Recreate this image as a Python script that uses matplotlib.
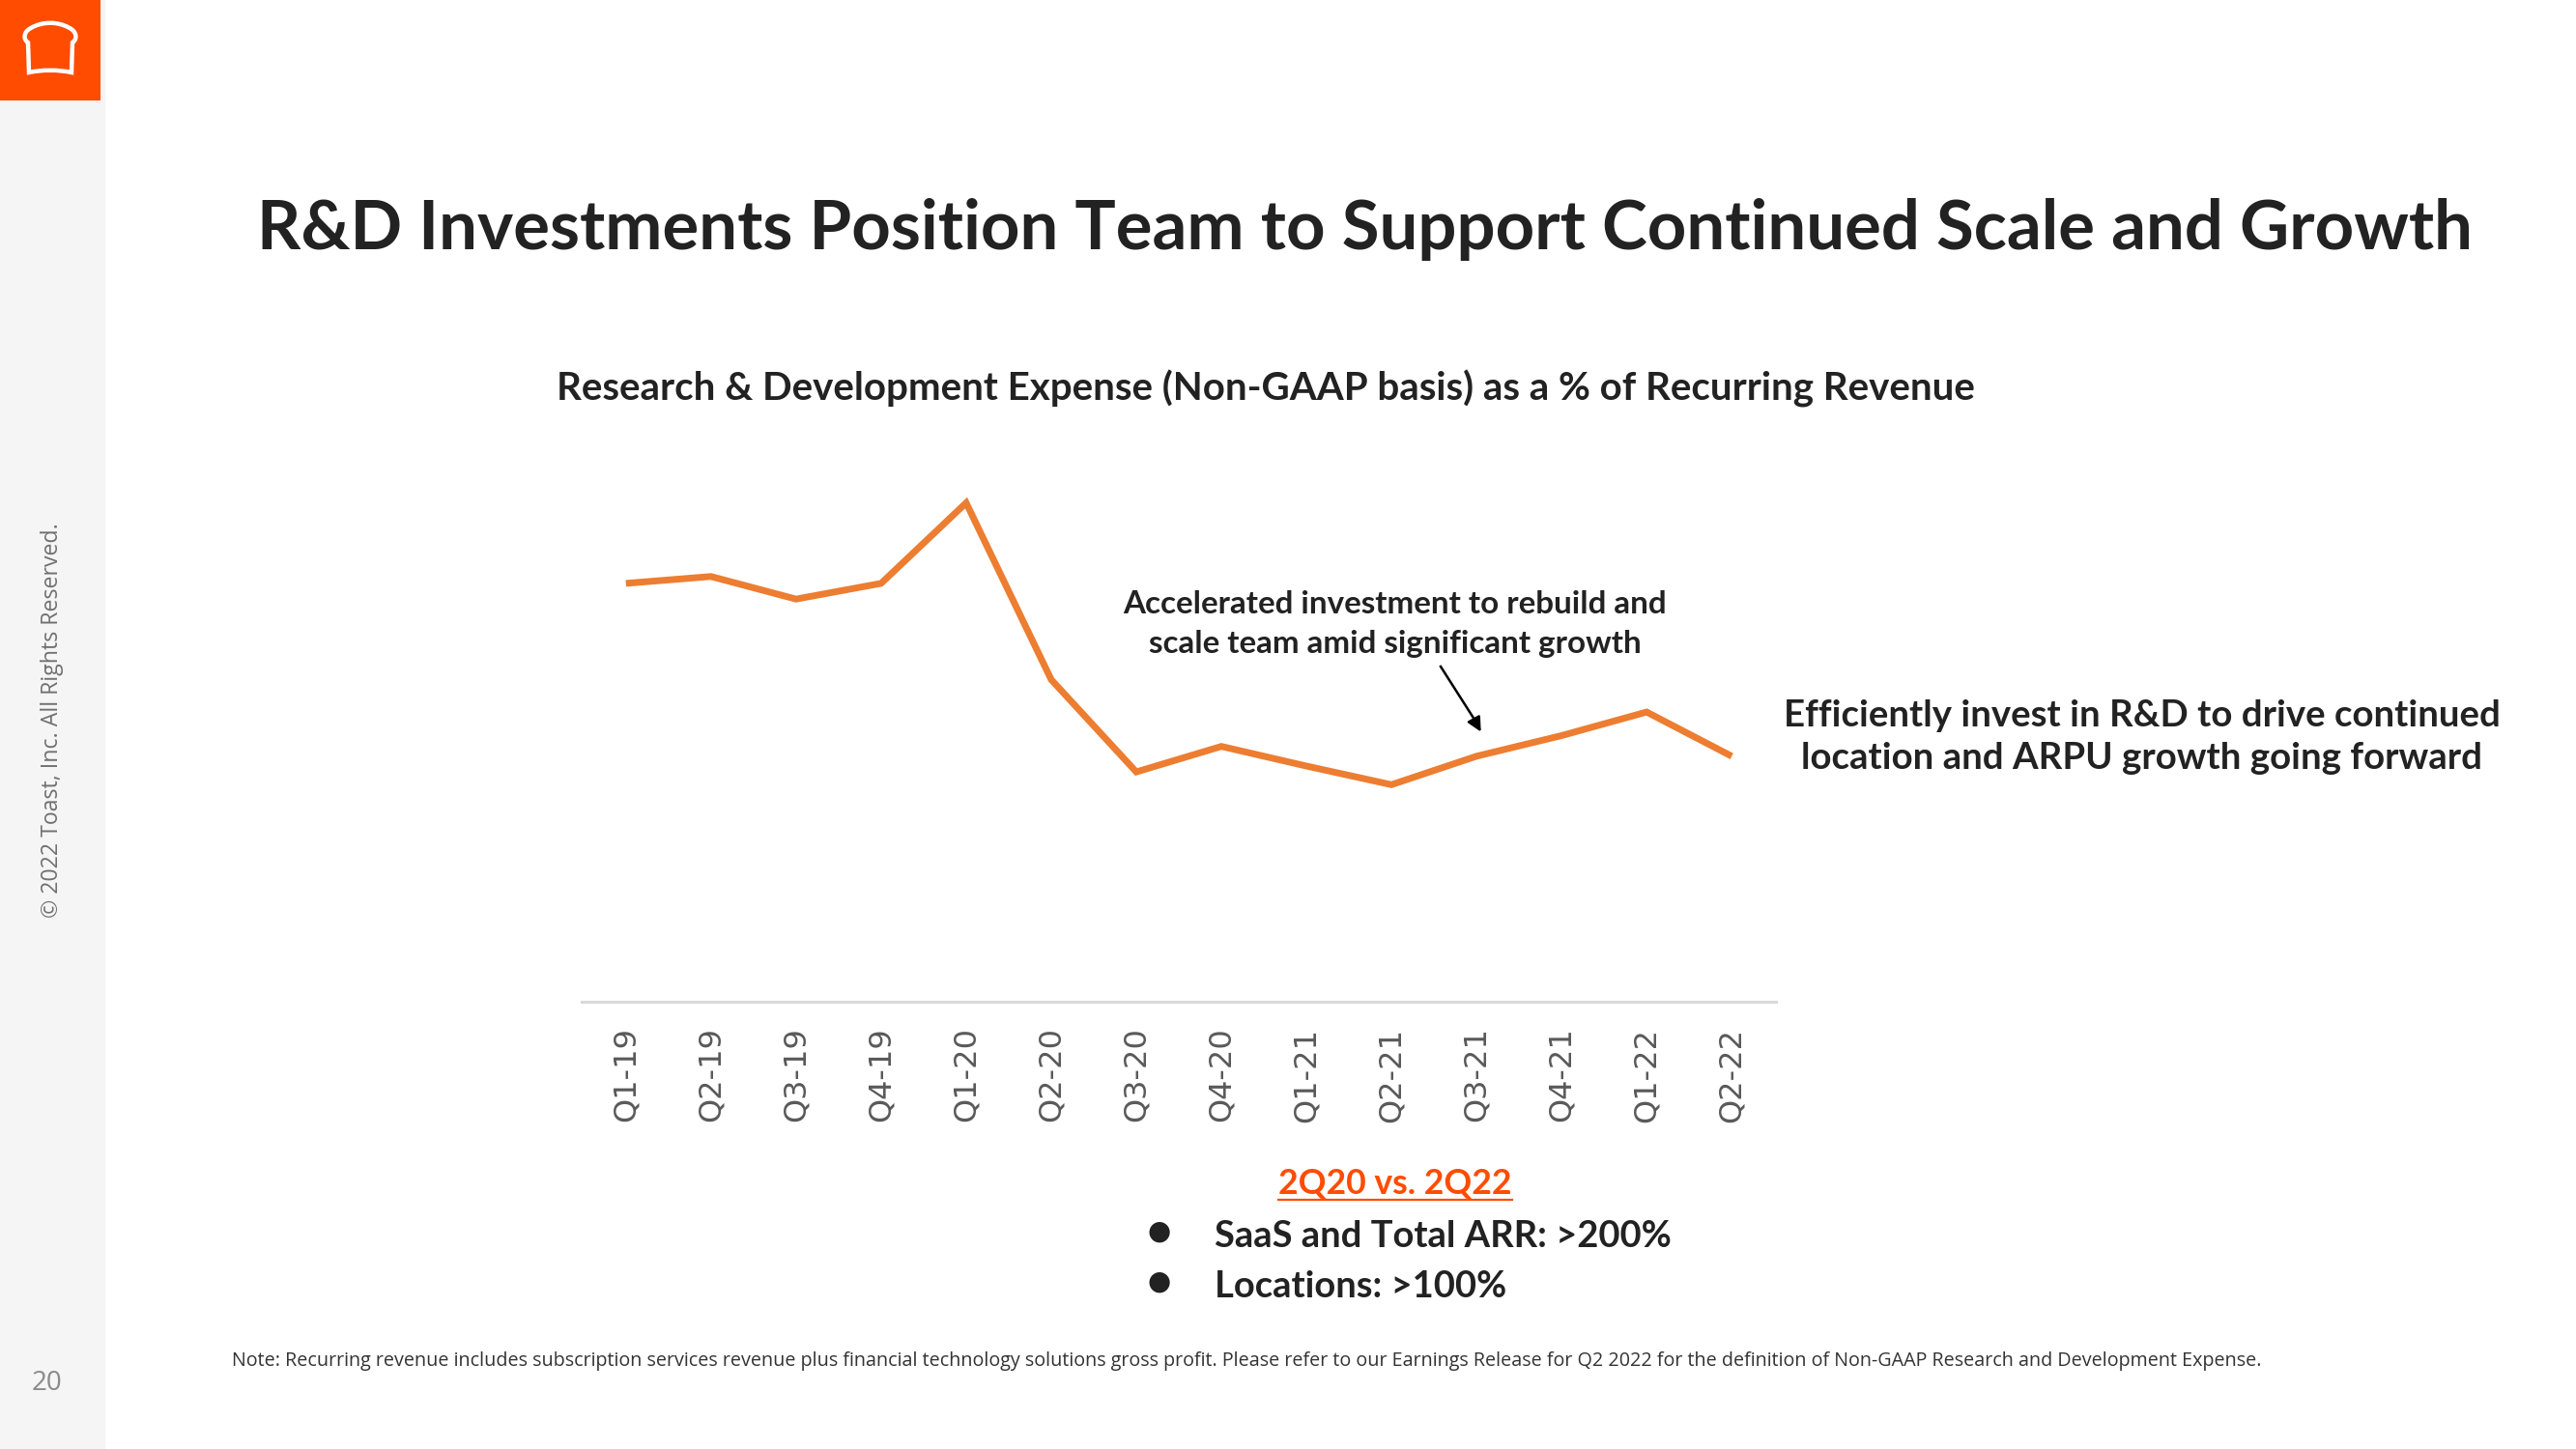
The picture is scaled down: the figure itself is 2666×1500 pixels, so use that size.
import matplotlib.pyplot as plt
from matplotlib.path import Path
from matplotlib.patches import PathPatch, Rectangle

quarters = ["Q1-19", "Q2-19", "Q3-19", "Q4-19", "Q1-20", "Q2-20", "Q3-20",
            "Q4-20", "Q1-21", "Q2-21", "Q3-21", "Q4-21", "Q1-22", "Q2-22"]
rd_pct = [42.6, 43.3, 41.0, 42.6, 50.8, 32.8, 23.4,
          26.0, 24.0, 22.1, 25.0, 27.1, 29.5, 25.0]

title = "R&D Investments Position Team to Support Continued Scale and Growth"
subtitle = "Research & Development Expense (Non-GAAP basis) as a % of Recurring Revenue"
callout = "Accelerated investment to rebuild and\nscale team amid significant growth"
side_note = "Efficiently invest in R&D to drive continued\nlocation and ARPU growth going forward"
compare_head = "2Q20 vs. 2Q22"
bullets = ["SaaS and Total ARR: >200%", "Locations: >100%"]
footnote = ("Note: Recurring revenue includes subscription services revenue plus financial technology "
            "solutions gross profit. Please refer to our Earnings Release for Q2 2022 for the definition "
            "of Non-GAAP Research and Development Expense.")

W, H = 2666, 1500
ORANGE = "#FF4C00"
LINE = "#ED7D31"
DARK = "#222222"
BOLD = "Lato"

fig = plt.figure(figsize=(W / 100, H / 100), dpi=100)
fig.patch.set_facecolor("white")


def fx(x):
    return x / W


def fy(y):
    return 1 - y / H


def fit(t, size_px, vertical=False):
    r = fig.canvas.get_renderer()
    bb = t.get_window_extent(r)
    cur = bb.height if vertical else bb.width
    t.set_fontsize(t.get_fontsize() * size_px / cur)
    return t


# left side bar and logo
fig.patches.append(Rectangle((0, 0), fx(108), 1, transform=fig.transFigure,
                             color="#F5F5F5", zorder=-1))
logo = fig.add_axes([0, fy(104), fx(104), 104 / H])
logo.set_zorder(3)
logo.set_xlim(0, 104)
logo.set_ylim(104, 0)
logo.axis("off")
logo.add_patch(Rectangle((0, 0), 104, 104, color=ORANGE))
bread = Path(
    [(30, 75), (29, 44),
     (24, 41), (24, 33), (32, 29),
     (44, 22), (60, 22), (72, 29),
     (80, 33), (80, 41), (75, 44),
     (74, 75),
     (60, 72), (44, 72), (30, 75),
     (30, 75)],
    [Path.MOVETO, Path.LINETO,
     Path.CURVE4, Path.CURVE4, Path.CURVE4,
     Path.CURVE4, Path.CURVE4, Path.CURVE4,
     Path.CURVE4, Path.CURVE4, Path.CURVE4,
     Path.LINETO,
     Path.CURVE4, Path.CURVE4, Path.CURVE4,
     Path.CLOSEPOLY])
logo.add_patch(PathPatch(bread, facecolor="none", edgecolor="white", lw=3.2))

t = fig.text(fx(54), fy(746), "\u00a9 2022 Toast, Inc. All Rights Reserved.", rotation=90,
             ha="center", va="center", color="#707070", family="Open Sans", fontsize=14)
fit(t, 411, vertical=True)
fig.text(fx(48), fy(1432), "20", ha="center", va="center", color="#8a8a8a",
         family="Open Sans", fontsize=20)

# titles
t = fig.text(fx(1413), fy(258), title, ha="center", va="baseline", color=DARK,
             family=BOLD, fontweight="bold", fontsize=50)
fit(t, 2297)
t = fig.text(fx(1310), fy(415), subtitle, ha="center", va="baseline", color=DARK,
             family=BOLD, fontweight="bold", fontsize=28)
fit(t, 1469)

# chart
ax = fig.add_axes([fx(602), fy(1037), fx(1838) - fx(602), (1037 - 427) / H])
x = range(len(quarters))
ax.plot(x, rd_pct, color=LINE, lw=5, solid_joinstyle="miter", solid_capstyle="butt")
ax.set_xlim(-0.52, len(quarters) - 1 + 0.52)
ax.set_ylim(0, 60)
ax.set_xticks(list(x))
ax.set_xticklabels(quarters, rotation=90, fontsize=23, color="#595959")
ax.tick_params(axis="x", length=0, pad=19)
ax.set_yticks([])
for s in ["top", "right", "left"]:
    ax.spines[s].set_visible(False)
ax.spines["bottom"].set_color("#D9D9D9")
ax.spines["bottom"].set_linewidth(2.2)
ax.patch.set_alpha(0)

# callouts
t = fig.text(fx(1444), fy(646), callout, ha="center", va="center", color=DARK,
             family=BOLD, fontweight="bold", fontsize=26, linespacing=1.5)
fit(t, 563)
fig.add_artist(plt.Line2D([fx(1491), fx(1528)], [fy(690), fy(748)], color="black",
                          lw=1.8, transform=fig.transFigure))
ax.annotate("", xy=(fx(1534), fy(760)), xytext=(fx(1524), fy(742)),
            xycoords="figure fraction", textcoords="figure fraction",
            arrowprops=dict(arrowstyle="-|>", color="black", lw=1.8, mutation_scale=22))
t = fig.text(fx(2217), fy(763), side_note, ha="center", va="center", color=DARK,
             family=BOLD, fontweight="bold", fontsize=30, linespacing=1.38)
fit(t, 740)

# comparison block
t = fig.text(fx(1444), fy(1236), compare_head, ha="center", va="baseline", color=ORANGE,
             family=BOLD, fontweight="bold", fontsize=30)
fit(t, 241)
bb = t.get_window_extent(fig.canvas.get_renderer())
fig.add_artist(plt.Line2D([bb.x0 / W, bb.x1 / W], [fy(1242), fy(1242)], color=ORANGE,
                          lw=1.6, transform=fig.transFigure))
for i, b in enumerate(bullets):
    yb = 1291 + 52 * i
    fig.text(fx(1200), fy(yb - 16), "\u25cf", ha="center", va="center", color=DARK,
             family="DejaVu Sans", fontsize=20)
    t = fig.text(fx(1257), fy(yb), b, ha="left", va="baseline", color=DARK,
                 family=BOLD, fontweight="bold", fontsize=33)
    if i == 0:
        fit(t, 473)
        bsize = t.get_fontsize()
    else:
        t.set_fontsize(bsize)

t = fig.text(fx(240), fy(1414), footnote, ha="left", va="baseline", color="#333333",
             family="Open Sans", fontsize=14)
fit(t, 2118)

fig.savefig("out.png", dpi=100)
